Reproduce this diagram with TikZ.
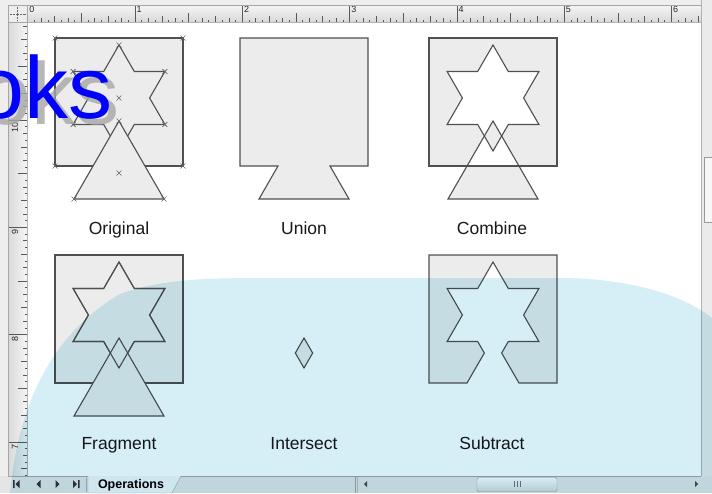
\documentclass[tikz,border=0pt]{standalone}
\usepackage{fontspec}
\setmainfont{Liberation Sans}
\definecolor{shfill}{RGB}{236,236,236}
\definecolor{shline}{RGB}{80,80,80}
\definecolor{wm}{RGB}{214,238,246}
\definecolor{winbg}{RGB}{238,238,238}
\def\SqP{(0,0) rectangle (128,128)}
\def\StarP{(64,7) -- (79.3,33.5) -- (109.9,33.5) -- (94.6,60) -- (109.9,86.5) -- (79.3,86.5) -- (64,113) -- (48.7,86.5) -- (18.1,86.5) -- (33.4,60) -- (18.1,33.5) -- (48.7,33.5) -- cycle}
\def\TriP{(64,83) -- (109,161) -- (19,161) -- cycle}
\begin{document}
\begin{tikzpicture}[x=1pt,y=-1pt,
  shp/.style={fill=shfill,draw=shline,line width=1.1pt,line join=miter},
  outl/.style={draw=shline,line width=1.1pt},
  lbl/.style={font=\fontsize{17.5}{20}\selectfont,text=black!90,anchor=base,inner sep=0},
  xmark/.style={draw=gray!80!black,line width=0.6pt},
  tick/.style={draw=black!65,line width=0.6pt},
  rulenum/.style={inner sep=0,font=\fontsize{9}{9}\selectfont,text=black!85},
]
\useasboundingbox (0,0) rectangle (712,493);
\clip (0,0) rectangle (712,493);
% window background
\fill[winbg] (0,0) rectangle (712,493);
% page area
\fill[white] (27,22) rectangle (701,476);
% top ruler
\shade[top color=white!96!black,bottom color=white!85!black] (27,5) rectangle (701,22);
\draw[gray!60] (8,22) -- (701,22);
\foreach \k in {1,...,102}{
  \pgfmathsetmacro\xx{27.7+\k*6.706}
  \pgfmathsetmacro\len{ifthenelse(mod(\k,16)==0,17,ifthenelse(mod(\k,8)==0,9,ifthenelse(mod(\k,4)==0,6,ifthenelse(mod(\k,2)==0,4,2.5))))}
  \draw[tick] (\xx,22) -- ++(0,-\len);
}
\draw[tick] (27.7,22) -- (27.7,5);
\foreach \i in {0,...,6}
  \node[rulenum,anchor=north west] at (27.7+\i*107.3+1.5,6) {\i};
% left ruler
\shade[left color=white!85!black,right color=white!96!black] (8,22) rectangle (27,476);
\draw[gray!60] (27,22) -- (27,476);
\foreach \k in {-14,...,53}{
  \pgfmathsetmacro\yy{120+\k*6.706}
  \pgfmathsetmacro\len{ifthenelse(mod(abs(\k),16)==0,19,ifthenelse(mod(abs(\k),8)==0,9,ifthenelse(mod(abs(\k),4)==0,6,ifthenelse(mod(abs(\k),2)==0,4,2.5))))}
  \draw[tick] (27,\yy) -- ++(-\len,0);
}
\foreach \v/\yy in {10/120,9/227.3,8/334.6,7/441.9}
  \node[rulenum,rotate=90,anchor=east] at (15,\yy+2) {\v};
% corner box
\fill[white!93!black] (8,5) rectangle (27,22);
\draw[black!60,densely dotted] (17.5,7) -- (17.5,21) (10,14) -- (26,14);
\draw[gray!70] (8,5) rectangle (27,22);
\draw[gray!70] (8,5) -- (701,5) (8,5) -- (8,476);
% vertical scrollbar
\fill[white!92!black] (701,0) rectangle (712,476);
\draw[gray!60] (701,0) -- (701,476);
\filldraw[fill=white!97!black,draw=gray!80] (704,157) rectangle (715,222);

% ---------- Original ----------
\begin{scope}[shift={(55,38)}]
  \path[shp] \SqP;
  \path[shp] \StarP;
  \path[shp] \TriP;
  \foreach \p in {(0,0),(128,0),(0,128),(128,128),(64,7),(109.9,33.5),(109.9,86.5),(18.1,33.5),(18.1,86.5),(64,60),(64,83),(19,161),(109,161),(64,135)}
    \draw[xmark] \p ++(-2.5,-2.5) -- ++(5,5) ++(0,-5) -- ++(-5,5);
\end{scope}
\node[lbl] (lorig) at (119,234) {Original};

% ---------- Union ----------
\begin{scope}[shift={(240,38)}]
  \path[shp] (0,0) -- (128,0) -- (128,128) -- (90,128) -- (109,161) -- (19,161) -- (38,128) -- (0,128) -- cycle;
\end{scope}
\node[lbl] (lunion) at (304,234) {Union};

% ---------- Combine ----------
\begin{scope}[shift={(429,38)}]
  \fill[shfill,even odd rule] \SqP \StarP \TriP;
  \path[outl] \SqP;
  \path[outl] \StarP;
  \path[outl] \TriP;
\end{scope}
\node[lbl] (lcomb) at (492,234) {Combine};

% ---------- Fragment ----------
\begin{scope}[shift={(55,255)}]
  \path[shp] \SqP;
  \path[shp] \StarP;
  \path[shp] \TriP;
  \path[outl] \StarP;
\end{scope}
\node[lbl] (lfrag) at (119,449) {Fragment};

% ---------- Intersect ----------
\begin{scope}[shift={(240,255)}]
  \path[shp] (64,83) -- (72.66,98) -- (64,113) -- (55.34,98) -- cycle;
\end{scope}
\node[lbl] (linter) at (304,449) {Intersect};

% ---------- Subtract ----------
\begin{scope}[shift={(429,255)}]
  \path[shp] (0,0) -- (128,0) -- (128,128) -- (90,128) -- (72.66,98) -- (79.3,86.5) -- (109.9,86.5) -- (94.6,60) -- (109.9,33.5) -- (79.3,33.5) -- (64,7) -- (48.7,33.5) -- (18.1,33.5) -- (33.4,60) -- (18.1,86.5) -- (48.7,86.5) -- (55.34,98) -- (38,128) -- (0,128) -- cycle;
\end{scope}
\node[lbl] (lsub) at (492,449) {Subtract};

% ---------- bottom bar ----------
\fill[white!90!black] (0,476) rectangle (712,493);
\draw[gray!70] (8,476) -- (701,476);
\fill[black!80] (13,480) rectangle (14.5,488) (19.5,480) -- (19.5,488) -- (15.5,484) -- cycle;
\fill[black!80] (40.5,480) -- (40.5,488) -- (36.5,484) -- cycle;
\fill[black!80] (55.5,480) -- (55.5,488) -- (59.5,484) -- cycle;
\fill[black!80] (73,480) -- (73,488) -- (77,484) -- cycle (78,480) rectangle (79.5,488);
\draw[gray!60] (86,478) -- (86,492);
\filldraw[fill=white!97!black,draw=gray!70] (88,476) -- (88,493) -- (172,493) -- (181,476);
\node[inner sep=0,font=\bfseries\fontsize{12.5}{13}\selectfont] (tab) at (131,485) {Operations};
\draw[gray!70,line width=0.8pt] (355,477) -- (355,493);
\draw[gray!50] (357,477) -- (357,493);
\fill[black!70] (367,481) -- (367,487) -- (364,484) -- cycle;
\fill[black!70] (695,481) -- (695,487) -- (698,484) -- cycle;
\shade[top color=white,bottom color=white!85!black,draw=gray!80,rounded corners=1.5pt] (477,477.5) rectangle (557,491.5);
\draw[black!55,line width=0.6pt] (514,481) -- (514,487) (517,481) -- (517,487) (520,481) -- (520,487);

% ---------- watermark ----------
\begin{scope}[blend mode=multiply]
\fill[wm] (10,493) .. controls (17,420) and (42,340) .. (120,294) .. controls (160,280) and (200,278) .. (260,278) -- (560,278) .. controls (620,278) and (680,292) .. (712,318) -- (712,493) -- cycle;
\end{scope}
\node[inner sep=0,anchor=base east,text=black!35,opacity=0.8,font=\fontsize{88}{88}\selectfont] (ghostsh) at (120,124) {oks};
\node[inner sep=0,anchor=base east,text=blue,font=\fontsize{88}{88}\selectfont] (ghost) at (113,118) {oks};
\end{tikzpicture}
\end{document}
